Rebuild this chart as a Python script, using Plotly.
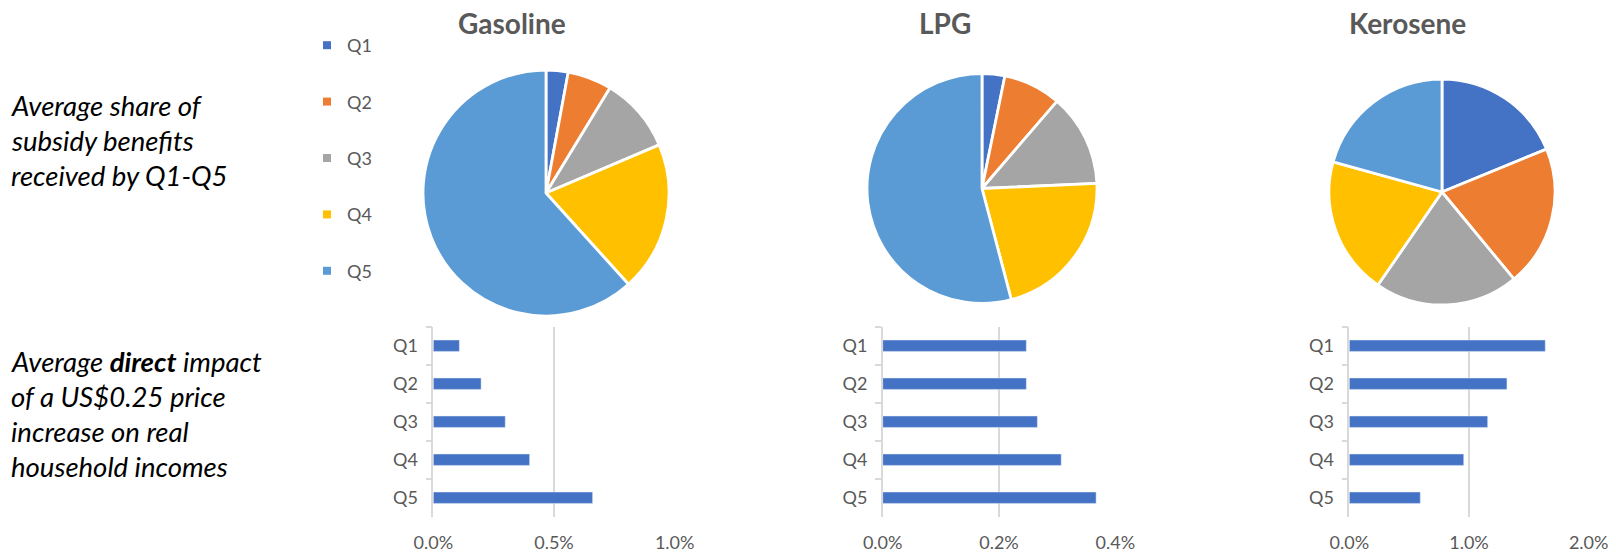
import plotly.graph_objects as go

# ---------------- data ----------------
quintiles = ["Q1", "Q2", "Q3", "Q4", "Q5"]
colors = ["#4472C4", "#ED7D31", "#A5A5A5", "#FFC000", "#5B9BD5"]

fuels = ["Gasoline", "LPG", "Kerosene"]

# Average share of subsidy benefits (%)
share_gasoline = [2.9, 5.8, 9.9, 19.7, 61.7]
share_lpg = [3.2, 8.1, 13.0, 21.6, 54.1]
share_kerosene = [18.8, 20.2, 20.6, 19.7, 20.7]

# Average direct impact of US$0.25 price increase (% of real income)
impact_gasoline = [0.108, 0.198, 0.298, 0.399, 0.660]
impact_lpg = [0.247, 0.247, 0.266, 0.307, 0.367]
impact_kerosene = [1.637, 1.317, 1.156, 0.956, 0.593]

ticks_gasoline = [0.0, 0.5, 1.0]
ticks_lpg = [0.0, 0.2, 0.4]
ticks_kerosene = [0.0, 1.0, 2.0]

left_text_top = ["Average share of", "subsidy benefits", "received by Q1-Q5"]
left_text_bottom = ["Average <b>direct</b> impact", "of a US$0.25 price",
                    "increase on real", "household incomes"]

# ---------------- layout helpers ----------------
W, H = 1616, 553
FONT = "Lato, 'Open Sans', sans-serif"
TXT = "#595959"
GRID = "#D9D9D9"


def px_x(v):
    return v / W


def px_y(v):
    return 1 - v / H


fig = go.Figure()

# ---------------- pies ----------------
pie_geom = [(546, 193, 123), (982, 188.5, 115), (1442, 192, 113)]
shares = [share_gasoline, share_lpg, share_kerosene]
for (cx, cy, r), vals, name in zip(pie_geom, shares, fuels):
    fig.add_trace(go.Pie(
        labels=quintiles, values=vals, name=name,
        sort=False, direction="clockwise", rotation=0,
        marker=dict(colors=colors, line=dict(color="white", width=2.8)),
        textinfo="none", showlegend=False, hoverinfo="label+percent",
        domain=dict(x=[px_x(cx - r), px_x(cx + r)], y=[px_y(cy + r), px_y(cy - r)]),
    ))

# ---------------- bars ----------------
impacts = [impact_gasoline, impact_lpg, impact_kerosene]
tickvals = [ticks_gasoline, ticks_lpg, ticks_kerosene]
bar_x = [(433.3, 674.7), (882.7, 1115.3), (1349.3, 1588.7)]
bar_y = (326.7, 516.7)

for i, (vals, tv, (x0, x1)) in enumerate(zip(impacts, tickvals, bar_x), start=1):
    sfx = "" if i == 1 else str(i)
    fig.add_trace(go.Bar(
        x=vals, y=quintiles, orientation="h",
        marker=dict(color="#4472C4"), showlegend=False,
        xaxis="x" + sfx, yaxis="y" + sfx, hovertemplate="%{y}: %{x:.2f}%<extra></extra>",
    ))
    fig.layout["xaxis" + sfx] = dict(
        domain=[px_x(x0), px_x(x1)], anchor="y" + sfx,
        range=[0, tv[-1]], tickvals=tv, ticktext=[f"{v:.1f}%" for v in tv],
        showgrid=True, gridcolor=GRID, gridwidth=1.5, zeroline=False,
        showline=False, ticks="", ticklabelstandoff=13, automargin=False,
        tickfont=dict(family=FONT, size=18, color=TXT), fixedrange=True,
    )
    fig.layout["yaxis" + sfx] = dict(
        domain=[px_y(bar_y[1]), px_y(bar_y[0])], anchor="x" + sfx,
        type="category", categoryorder="array", categoryarray=quintiles,
        autorange="reversed", showline=True, linecolor=GRID, linewidth=1.5,
        ticks="outside", tickson="boundaries", ticklen=6, tickcolor=GRID, tickwidth=1.5,
        ticklabelstandoff=10, showgrid=False, zeroline=False, automargin=False,
        tickfont=dict(family=FONT, size=18, color=TXT), fixedrange=True,
    )

# ---------------- legend (shared, via marker entries) ----------------
for q, c in zip(quintiles, colors):
    fig.add_trace(go.Scatter(
        x=[None], y=[None], mode="markers", name=q, legendgroup=q,
        marker=dict(symbol="square", size=8, color=c),
        xaxis="x4", yaxis="y4", showlegend=True,
    ))
fig.layout["xaxis4"] = dict(visible=False, domain=[0, 0.001], anchor="y4")
fig.layout["yaxis4"] = dict(visible=False, domain=[0, 0.001], anchor="x4")

# ---------------- titles and side texts ----------------
annotations = []
for name, xc in zip(fuels, [512, 945, 1407]):
    annotations.append(dict(
        text=f"<b>{name}</b>", x=px_x(xc), y=px_y(23), xref="paper", yref="paper",
        xanchor="center", yanchor="middle", showarrow=False,
        font=dict(family=FONT, size=28, color=TXT),
    ))
for j, line in enumerate(left_text_top):
    annotations.append(dict(
        text=f"<i>{line}</i>", x=px_x(9), y=px_y(105 + 35 * j), xref="paper", yref="paper",
        xanchor="left", yanchor="middle", showarrow=False,
        font=dict(family=FONT, size=27.5, color="black"),
    ))
for j, line in enumerate(left_text_bottom):
    annotations.append(dict(
        text=f"<i>{line}</i>", x=px_x(9), y=px_y(361 + 35.3 * j), xref="paper", yref="paper",
        xanchor="left", yanchor="middle", showarrow=False,
        font=dict(family=FONT, size=27.5, color="black"),
    ))

fig.update_layout(
    width=W, height=H, margin=dict(l=0, r=0, t=0, b=0, autoexpand=False),
    paper_bgcolor="white", plot_bgcolor="white",
    bargap=0.7,
    annotations=annotations,
    legend=dict(
        x=px_x(307), y=px_y(27), xanchor="left", yanchor="top",
        orientation="v", traceorder="grouped", tracegroupgap=30,
        font=dict(family=FONT, size=18, color=TXT), itemwidth=30,
        bgcolor="rgba(0,0,0,0)",
    ),
)

fig.write_html(
    "out.html",
    config={"displayModeBar": False},
    post_script="document.body.style.margin='0';document.body.style.overflow='hidden';",
)
